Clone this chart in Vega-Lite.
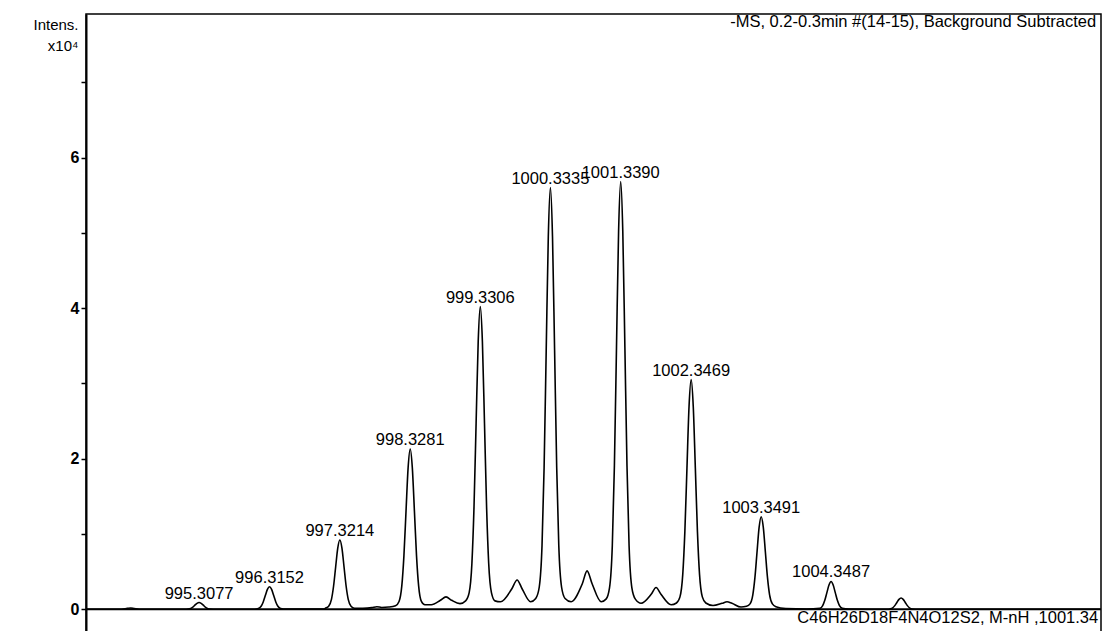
{
  "$schema": "https://vega.github.io/schema/vega-lite/v6.json",
  "width": 1015,
  "height": 624,
  "autosize": {"type": "none"},
  "padding": {"left": 86, "top": 14, "right": 3, "bottom": 0},
  "background": "white",
  "config": {
    "font": "Liberation Sans",
    "view": {"stroke": "black", "strokeWidth": 1.5}
  },
  "datasets": {
    "spectrum": [
      {"mz": 993.70, "intensity": 0},
      {"mz": 994.20, "intensity": 0},
      {"mz": 994.28, "intensity": 0.012},
      {"mz": 994.33, "intensity": 0.018},
      {"mz": 994.38, "intensity": 0.01},
      {"mz": 994.45, "intensity": 0},
      {"mz": 995.10, "intensity": 0},
      {"mz": 995.1477, "intensity": 0.003},
      {"mz": 995.1877, "intensity": 0.012},
      {"mz": 995.2177, "intensity": 0.029},
      {"mz": 995.2477, "intensity": 0.055},
      {"mz": 995.2777, "intensity": 0.079},
      {"mz": 995.3077, "intensity": 0.09},
      {"mz": 995.3377, "intensity": 0.079},
      {"mz": 995.3677, "intensity": 0.055},
      {"mz": 995.3977, "intensity": 0.029},
      {"mz": 995.4277, "intensity": 0.012},
      {"mz": 995.4677, "intensity": 0.003},
      {"mz": 995.55, "intensity": 0},
      {"mz": 996.10, "intensity": 0},
      {"mz": 996.1552, "intensity": 0.01},
      {"mz": 996.1952, "intensity": 0.04},
      {"mz": 996.2252, "intensity": 0.098},
      {"mz": 996.2552, "intensity": 0.182},
      {"mz": 996.2852, "intensity": 0.265},
      {"mz": 996.3152, "intensity": 0.30},
      {"mz": 996.3452, "intensity": 0.265},
      {"mz": 996.3752, "intensity": 0.182},
      {"mz": 996.4052, "intensity": 0.098},
      {"mz": 996.4352, "intensity": 0.04},
      {"mz": 996.4752, "intensity": 0.01},
      {"mz": 996.55, "intensity": 0.002},
      {"mz": 997.10, "intensity": 0.005},
      {"mz": 997.1114, "intensity": 0.012},
      {"mz": 997.1614, "intensity": 0.042},
      {"mz": 997.2014, "intensity": 0.133},
      {"mz": 997.2314, "intensity": 0.306},
      {"mz": 997.2614, "intensity": 0.562},
      {"mz": 997.2914, "intensity": 0.813},
      {"mz": 997.3214, "intensity": 0.92},
      {"mz": 997.3514, "intensity": 0.813},
      {"mz": 997.3814, "intensity": 0.562},
      {"mz": 997.4114, "intensity": 0.306},
      {"mz": 997.4414, "intensity": 0.133},
      {"mz": 997.4814, "intensity": 0.042},
      {"mz": 997.5314, "intensity": 0.015},
      {"mz": 997.65, "intensity": 0.012},
      {"mz": 997.78, "intensity": 0.022},
      {"mz": 997.85, "intensity": 0.035},
      {"mz": 997.92, "intensity": 0.025},
      {"mz": 998.02, "intensity": 0.03},
      {"mz": 998.1181, "intensity": 0.047},
      {"mz": 998.1681, "intensity": 0.104},
      {"mz": 998.2081, "intensity": 0.314},
      {"mz": 998.2381, "intensity": 0.713},
      {"mz": 998.2681, "intensity": 1.305},
      {"mz": 998.2981, "intensity": 1.882},
      {"mz": 998.3281, "intensity": 2.13},
      {"mz": 998.3581, "intensity": 1.882},
      {"mz": 998.3881, "intensity": 1.305},
      {"mz": 998.4181, "intensity": 0.713},
      {"mz": 998.4481, "intensity": 0.314},
      {"mz": 998.4881, "intensity": 0.104},
      {"mz": 998.5381, "intensity": 0.06},
      {"mz": 998.63, "intensity": 0.06},
      {"mz": 998.76, "intensity": 0.12},
      {"mz": 998.84, "intensity": 0.165},
      {"mz": 998.92, "intensity": 0.12},
      {"mz": 999.04, "intensity": 0.075},
      {"mz": 999.1206, "intensity": 0.112},
      {"mz": 999.1706, "intensity": 0.218},
      {"mz": 999.2106, "intensity": 0.612},
      {"mz": 999.2406, "intensity": 1.360},
      {"mz": 999.2706, "intensity": 2.472},
      {"mz": 999.3006, "intensity": 3.555},
      {"mz": 999.3306, "intensity": 4.02},
      {"mz": 999.3606, "intensity": 3.555},
      {"mz": 999.3906, "intensity": 2.472},
      {"mz": 999.4206, "intensity": 1.360},
      {"mz": 999.4506, "intensity": 0.612},
      {"mz": 999.4906, "intensity": 0.218},
      {"mz": 999.5406, "intensity": 0.112},
      {"mz": 999.62, "intensity": 0.10},
      {"mz": 999.78, "intensity": 0.27},
      {"mz": 999.857, "intensity": 0.39},
      {"mz": 999.93, "intensity": 0.27},
      {"mz": 1000.05, "intensity": 0.10},
      {"mz": 1000.1235, "intensity": 0.144},
      {"mz": 1000.1735, "intensity": 0.293},
      {"mz": 1000.2135, "intensity": 0.843},
      {"mz": 1000.2435, "intensity": 1.888},
      {"mz": 1000.2735, "intensity": 3.439},
      {"mz": 1000.3035, "intensity": 4.951},
      {"mz": 1000.3335, "intensity": 5.60},
      {"mz": 1000.3635, "intensity": 4.951},
      {"mz": 1000.3935, "intensity": 3.439},
      {"mz": 1000.4235, "intensity": 1.888},
      {"mz": 1000.4535, "intensity": 0.843},
      {"mz": 1000.4935, "intensity": 0.293},
      {"mz": 1000.5435, "intensity": 0.144},
      {"mz": 1000.63, "intensity": 0.10},
      {"mz": 1000.79, "intensity": 0.34},
      {"mz": 1000.858, "intensity": 0.51},
      {"mz": 1000.93, "intensity": 0.34},
      {"mz": 1001.06, "intensity": 0.10},
      {"mz": 1001.129, "intensity": 0.135},
      {"mz": 1001.179, "intensity": 0.286},
      {"mz": 1001.219, "intensity": 0.845},
      {"mz": 1001.249, "intensity": 1.907},
      {"mz": 1001.279, "intensity": 3.483},
      {"mz": 1001.309, "intensity": 5.020},
      {"mz": 1001.339, "intensity": 5.68},
      {"mz": 1001.369, "intensity": 5.020},
      {"mz": 1001.399, "intensity": 3.483},
      {"mz": 1001.429, "intensity": 1.907},
      {"mz": 1001.459, "intensity": 0.845},
      {"mz": 1001.499, "intensity": 0.286},
      {"mz": 1001.549, "intensity": 0.135},
      {"mz": 1001.63, "intensity": 0.08},
      {"mz": 1001.775, "intensity": 0.20},
      {"mz": 1001.845, "intensity": 0.29},
      {"mz": 1001.915, "intensity": 0.20},
      {"mz": 1002.06, "intensity": 0.06},
      {"mz": 1002.1369, "intensity": 0.084},
      {"mz": 1002.1869, "intensity": 0.165},
      {"mz": 1002.2269, "intensity": 0.464},
      {"mz": 1002.2569, "intensity": 1.032},
      {"mz": 1002.2869, "intensity": 1.875},
      {"mz": 1002.3169, "intensity": 2.697},
      {"mz": 1002.3469, "intensity": 3.05},
      {"mz": 1002.3769, "intensity": 2.697},
      {"mz": 1002.4069, "intensity": 1.875},
      {"mz": 1002.4369, "intensity": 1.032},
      {"mz": 1002.4669, "intensity": 0.464},
      {"mz": 1002.5069, "intensity": 0.165},
      {"mz": 1002.5569, "intensity": 0.084},
      {"mz": 1002.66, "intensity": 0.05},
      {"mz": 1002.79, "intensity": 0.08},
      {"mz": 1002.86, "intensity": 0.10},
      {"mz": 1002.93, "intensity": 0.08},
      {"mz": 1003.06, "intensity": 0.03},
      {"mz": 1003.1391, "intensity": 0.04},
      {"mz": 1003.1891, "intensity": 0.072},
      {"mz": 1003.2291, "intensity": 0.192},
      {"mz": 1003.2591, "intensity": 0.42},
      {"mz": 1003.2891, "intensity": 0.758},
      {"mz": 1003.3191, "intensity": 1.088},
      {"mz": 1003.3491, "intensity": 1.23},
      {"mz": 1003.3791, "intensity": 1.088},
      {"mz": 1003.4091, "intensity": 0.758},
      {"mz": 1003.4391, "intensity": 0.42},
      {"mz": 1003.4691, "intensity": 0.192},
      {"mz": 1003.5091, "intensity": 0.072},
      {"mz": 1003.5591, "intensity": 0.035},
      {"mz": 1003.70, "intensity": 0.01},
      {"mz": 1004.00, "intensity": 0.004},
      {"mz": 1004.1887, "intensity": 0.013},
      {"mz": 1004.2287, "intensity": 0.049},
      {"mz": 1004.2587, "intensity": 0.119},
      {"mz": 1004.2887, "intensity": 0.222},
      {"mz": 1004.3187, "intensity": 0.322},
      {"mz": 1004.3487, "intensity": 0.37},
      {"mz": 1004.3787, "intensity": 0.322},
      {"mz": 1004.4087, "intensity": 0.222},
      {"mz": 1004.4387, "intensity": 0.119},
      {"mz": 1004.4687, "intensity": 0.049},
      {"mz": 1004.5087, "intensity": 0.013},
      {"mz": 1004.60, "intensity": 0.002},
      {"mz": 1005.15, "intensity": 0},
      {"mz": 1005.19, "intensity": 0.005},
      {"mz": 1005.23, "intensity": 0.02},
      {"mz": 1005.26, "intensity": 0.049},
      {"mz": 1005.29, "intensity": 0.091},
      {"mz": 1005.32, "intensity": 0.132},
      {"mz": 1005.35, "intensity": 0.15},
      {"mz": 1005.38, "intensity": 0.132},
      {"mz": 1005.41, "intensity": 0.091},
      {"mz": 1005.44, "intensity": 0.049},
      {"mz": 1005.47, "intensity": 0.02},
      {"mz": 1005.51, "intensity": 0.005},
      {"mz": 1005.60, "intensity": 0},
      {"mz": 1008.20, "intensity": 0}
    ],
    "peaks": [
      {"mz": 995.3077, "intensity": 0.09, "label": "995.3077"},
      {"mz": 996.3152, "intensity": 0.30, "label": "996.3152"},
      {"mz": 997.3214, "intensity": 0.92, "label": "997.3214"},
      {"mz": 998.3281, "intensity": 2.13, "label": "998.3281"},
      {"mz": 999.3306, "intensity": 4.02, "label": "999.3306"},
      {"mz": 1000.3335, "intensity": 5.60, "label": "1000.3335"},
      {"mz": 1001.3390, "intensity": 5.68, "label": "1001.3390"},
      {"mz": 1002.3469, "intensity": 3.05, "label": "1002.3469"},
      {"mz": 1003.3491, "intensity": 1.23, "label": "1003.3491"},
      {"mz": 1004.3487, "intensity": 0.37, "label": "1004.3487"}
    ],
    "notes": [
      {"header": "-MS, 0.2-0.3min #(14-15), Background Subtracted", "formula": "C46H26D18F4N4O12S2, M-nH ,1001.34"}
    ]
  },
  "layer": [
    {
      "data": {"name": "spectrum"},
      "mark": {"type": "line", "color": "black", "strokeWidth": 1.6, "interpolate": "monotone", "clip": true},
      "encoding": {
        "x": {"field": "mz", "type": "quantitative", "scale": {"domain": [993.69, 1008.21], "nice": false, "zero": false}, "axis": null},
        "y": {
          "field": "intensity",
          "type": "quantitative",
          "scale": {"domain": [-0.381, 7.906], "nice": false, "zero": false},
          "axis": {
            "values": [0, 1, 2, 3, 4, 5, 6, 7],
            "format": "d",
            "labelExpr": "datum.value % 2 === 0 ? datum.label : ''",
            "grid": false,
            "domainColor": "black",
            "domainWidth": 2,
            "tickColor": "black",
            "tickSize": 5,
            "tickWidth": 1.5,
            "labelFont": "Liberation Sans",
            "labelFontSize": 16,
            "labelFontWeight": "bold",
            "labelColor": "black",
            "labelPadding": 2,
            "title": ["Intens.", "x10⁴"],
            "titleAngle": 0,
            "titleAlign": "right",
            "titleBaseline": "top",
            "titleX": -8,
            "titleY": 3,
            "titleFont": "Liberation Sans",
            "titleFontSize": 15,
            "titleFontWeight": "normal",
            "titleLineHeight": 21,
            "titleColor": "black"
          }
        }
      }
    },
    {
      "data": {"values": [{}]},
      "mark": {"type": "rule", "color": "black", "strokeWidth": 2},
      "encoding": {"y": {"datum": 0}}
    },
    {
      "data": {"name": "peaks"},
      "mark": {"type": "text", "font": "Liberation Sans", "fontSize": 16.5, "color": "black", "align": "center", "baseline": "alphabetic", "dy": -4},
      "encoding": {
        "x": {"field": "mz", "type": "quantitative"},
        "y": {"field": "intensity", "type": "quantitative"},
        "text": {"field": "label", "type": "nominal"}
      }
    },
    {
      "data": {"name": "notes"},
      "mark": {"type": "text", "font": "Liberation Sans", "fontSize": 16.5, "color": "black", "align": "right", "baseline": "alphabetic"},
      "encoding": {
        "x": {"datum": 1008.14},
        "y": {"datum": 7.733},
        "text": {"field": "header", "type": "nominal"}
      }
    },
    {
      "data": {"name": "notes"},
      "mark": {"type": "text", "font": "Liberation Sans", "fontSize": 16.5, "color": "black", "align": "right", "baseline": "alphabetic"},
      "encoding": {
        "x": {"datum": 1008.17},
        "y": {"datum": -0.182},
        "text": {"field": "formula", "type": "nominal"}
      }
    }
  ]
}
